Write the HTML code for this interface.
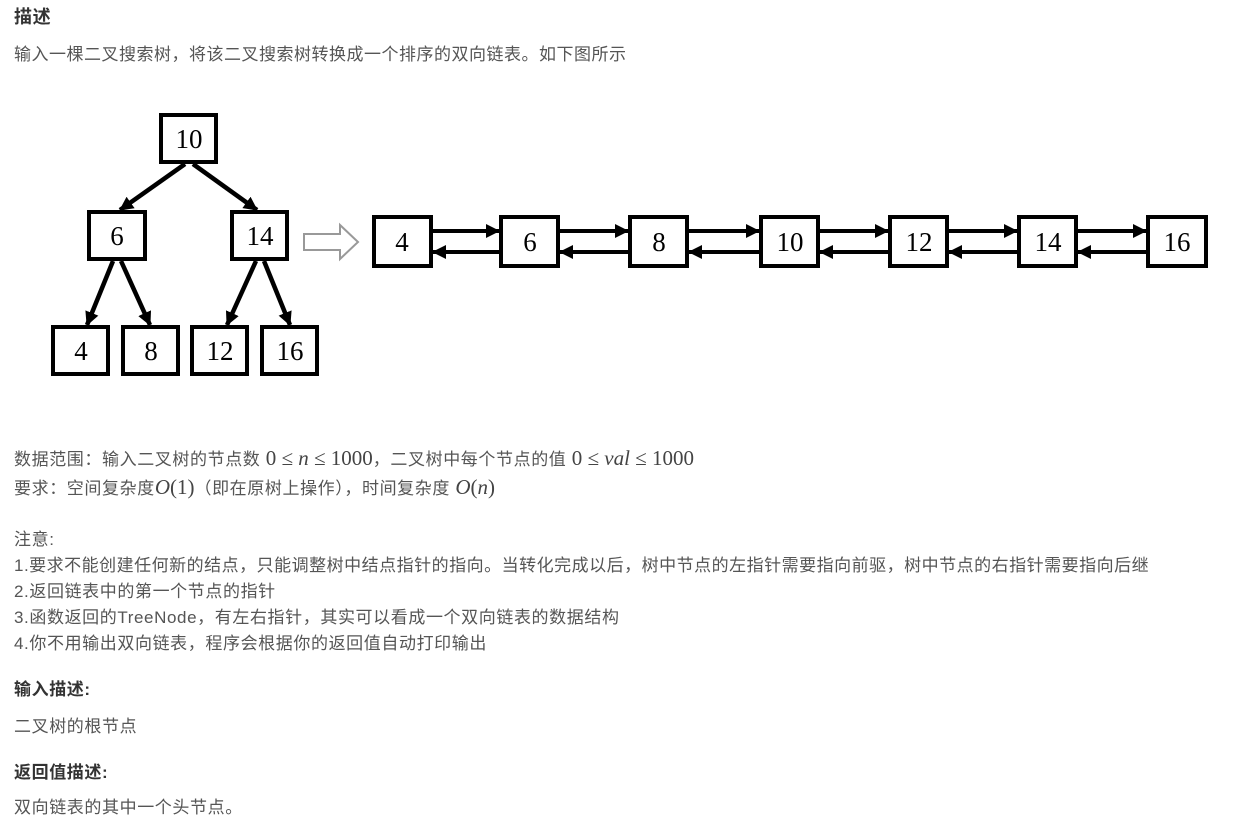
<!DOCTYPE html>
<html><head><meta charset="utf-8">
<style>
body{margin:0;width:1236px;height:830px;background:#fff;position:relative;overflow:hidden;font-family:"Liberation Sans","Noto Sans CJK SC",sans-serif;color:#555;}
.t{position:absolute;left:14px;font-size:17px;letter-spacing:0.6px;white-space:nowrap;line-height:22px;}
.b{font-weight:bold;color:#333;}
.m{font-family:"Liberation Serif",serif;font-size:21px;letter-spacing:0;color:#444}
.i{font-style:italic}
</style></head><body>
<div class="t b" style="top:6px;font-size:18px;">描述</div>
<div class="t" style="top:44px;letter-spacing:0.5px;">输入一棵二叉搜索树，将该二叉搜索树转换成一个排序的双向链表。如下图所示</div>

<svg style="position:absolute;left:0;top:0" width="1236" height="420">
<defs>
<marker id="h" markerWidth="14" markerHeight="14" refX="13" refY="7" orient="auto" markerUnits="userSpaceOnUse"><path d="M0,0 L14,7 L0,14 z" fill="#000"/></marker></defs>
<g fill="none" stroke="#000" stroke-width="4">
<rect x="161" y="115" width="55" height="47"/>
<rect x="89" y="212" width="56" height="47"/>
<rect x="232" y="212" width="55" height="47"/>
<rect x="53" y="327" width="55" height="47"/>
<rect x="123" y="327" width="55" height="47"/>
<rect x="192" y="327" width="55" height="47"/>
<rect x="262" y="327" width="55" height="47"/>
</g>
<g stroke="#000" stroke-width="4.5" fill="none">
<line x1="185" y1="164" x2="120" y2="210" marker-end="url(#h)"/>
<line x1="193" y1="164" x2="257" y2="210" marker-end="url(#h)"/>
<line x1="113" y1="261" x2="87" y2="325" marker-end="url(#h)"/>
<line x1="121" y1="261" x2="150" y2="325" marker-end="url(#h)"/>
<line x1="256" y1="261" x2="227" y2="325" marker-end="url(#h)"/>
<line x1="264" y1="261" x2="290" y2="325" marker-end="url(#h)"/>
</g>
<path d="M304,234 L340,234 L340,225 L358,242 L340,259 L340,250 L304,250 z" fill="none" stroke="#999" stroke-width="2"/>
<g fill="none" stroke="#000" stroke-width="4">
<rect x="374" y="217" width="57" height="49"/>
<rect x="501" y="217" width="57" height="49"/>
<rect x="630" y="217" width="57" height="49"/>
<rect x="761" y="217" width="57" height="49"/>
<rect x="890" y="217" width="57" height="49"/>
<rect x="1019" y="217" width="57" height="49"/>
<rect x="1148" y="217" width="58" height="49"/>
</g>
<g stroke="#000" stroke-width="4">
<line x1="433" y1="231" x2="499" y2="231" marker-end="url(#h)"/><line x1="499" y1="252" x2="433" y2="252" marker-end="url(#h)"/>
<line x1="560" y1="231" x2="628" y2="231" marker-end="url(#h)"/><line x1="628" y1="252" x2="560" y2="252" marker-end="url(#h)"/>
<line x1="689" y1="231" x2="759" y2="231" marker-end="url(#h)"/><line x1="759" y1="252" x2="689" y2="252" marker-end="url(#h)"/>
<line x1="820" y1="231" x2="888" y2="231" marker-end="url(#h)"/><line x1="888" y1="252" x2="820" y2="252" marker-end="url(#h)"/>
<line x1="949" y1="231" x2="1017" y2="231" marker-end="url(#h)"/><line x1="1017" y1="252" x2="949" y2="252" marker-end="url(#h)"/>
<line x1="1078" y1="231" x2="1146" y2="231" marker-end="url(#h)"/><line x1="1146" y1="252" x2="1078" y2="252" marker-end="url(#h)"/>
</g>
<g font-family="Liberation Serif,serif" font-size="27" text-anchor="middle" fill="#000">
<text x="189" y="148">10</text><text x="117" y="245">6</text><text x="260" y="245">14</text>
<text x="81" y="360">4</text><text x="151" y="360">8</text><text x="220" y="360">12</text><text x="290" y="360">16</text>
<text x="402" y="251">4</text><text x="530" y="251">6</text><text x="659" y="251">8</text><text x="790" y="251">10</text><text x="919" y="251">12</text><text x="1048" y="251">14</text><text x="1177" y="251">16</text>
</g>
</svg>

<div class="t" style="top:447px;">数据范围：输入二叉树的节点数 <span class="m">0 ≤ <span class="i">n</span> ≤ 1000</span>，二叉树中每个节点的值 <span class="m">0 ≤ <span class="i">val</span> ≤ 1000</span></div>
<div class="t" style="top:476px;">要求：空间复杂度<span class="m"><span class="i">O</span>(1)</span>（即在原树上操作），时间复杂度 <span class="m"><span class="i">O</span>(<span class="i">n</span>)</span></div>
<div class="t" style="top:529px;">注意:</div>
<div class="t" style="top:555px;letter-spacing:0.5px;">1.要求不能创建任何新的结点，只能调整树中结点指针的指向。当转化完成以后，树中节点的左指针需要指向前驱，树中节点的右指针需要指向后继</div>
<div class="t" style="top:581px;">2.返回链表中的第一个节点的指针</div>
<div class="t" style="top:607px;">3.函数返回的TreeNode，有左右指针，其实可以看成一个双向链表的数据结构</div>
<div class="t" style="top:633px;">4.你不用输出双向链表，程序会根据你的返回值自动打印输出</div>
<div class="t b" style="top:679px;">输入描述:</div>
<div class="t" style="top:716px;">二叉树的根节点</div>
<div class="t b" style="top:762px;">返回值描述:</div>
<div class="t" style="top:797px;">双向链表的其中一个头节点。</div>
</body></html>
